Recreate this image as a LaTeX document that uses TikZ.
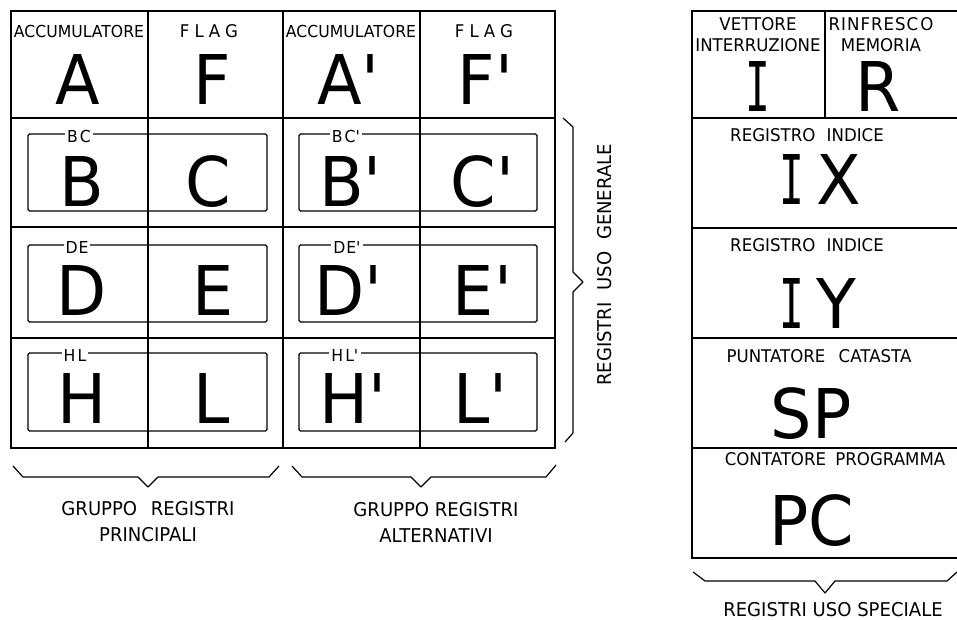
\documentclass[tikz,border=0pt]{standalone}
\usepackage{fontspec}
\usepackage{graphicx}
\setmainfont{DejaVu Sans}[FakeStretch=0.95]
\newfontfamily\monoI{DejaVu Sans Mono}
\newcommand{\pr}{\textquotesingle}
\newcommand{\regI}{{\monoI\scalebox{0.6}[1]{I}}}

\begin{document}
\begin{tikzpicture}[x=1pt, y=-1pt,
    grid/.style={line width=2pt, line cap=rect},
    pair/.style={line width=1.1pt, rounded corners=1.5pt},
    brace/.style={line width=1.2pt, line join=round},
    tag/.style={font=\fontsize{17.5}{21}\selectfont,
        inner sep=0pt, align=center},
    pairtag/.style={font=\fontsize{16.5}{18}\selectfont,
        fill=white, inner sep=2pt},
    big/.style={font=\fontsize{68.6}{70}\selectfont,
        anchor=base, inner sep=0pt},
    group/.style={font=\fontsize{19}{26}\selectfont,
        inner sep=0pt, align=center}
]
\useasboundingbox (0,0) rectangle (957,620);

\draw[grid] (11,11) rectangle (555,448);
\draw[grid] (148,11) -- (148,448);
\draw[grid] (283,11) -- (283,448);
\draw[grid] (420,11) -- (420,448);
\draw[grid] (11,118) -- (555,118);
\draw[grid] (11,227) -- (555,227);
\draw[grid] (11,338) -- (555,338);

\draw[pair] (28,134) rectangle (267,211);
\draw[pair] (299,134) rectangle (537,211);
\draw[pair] (28,245) rectangle (267,322);
\draw[pair] (299,245) rectangle (537,322);
\draw[pair] (28,353) rectangle (267,431);
\draw[pair] (299,353) rectangle (537,431);

\node[tag, font=\fontsize{16.5}{21}\selectfont] (acc) at (79,31) {ACCUMULATORE};
\node[tag] (flag) at (209,31) {F\hspace{5pt}L\hspace{5pt}A\hspace{5pt}G};
\node[tag, font=\fontsize{16.5}{21}\selectfont] (acc2) at (351,31) {ACCUMULATORE};
\node[tag] (flag2) at (484,31) {F\hspace{5pt}L\hspace{5pt}A\hspace{5pt}G};

\node[big] (A) at (78,105) {A};
\node[big] (F) at (212,105) {F};
\node[big] (A2) at (349,105) {A\pr};
\node[big] (F2) at (486,105) {F\pr};

\node[pairtag] (bc) at (79,136) {B\hspace{2pt}C};
\node[pairtag] (bc2) at (346,136) {B\hspace{2pt}C\pr};
\node[pairtag] (de) at (77,247) {D\hspace{1pt}E};
\node[pairtag] (de2) at (347,247) {D\hspace{1pt}E\pr};
\node[pairtag] (hl) at (75,355) {H\hspace{2pt}L};
\node[pairtag] (hl2) at (345,355) {H\hspace{2pt}L\pr};

\node[big] (B) at (82,207) {B};
\node[big] (C) at (208,207) {C};
\node[big] (B2) at (351,207) {B\pr};
\node[big] (C2) at (483,207) {C\pr};
\node[big] (D) at (82,315) {D};
\node[big] (E) at (213,315) {E};
\node[big] (D2) at (349,315) {D\pr};
\node[big] (E2) at (483,315) {E\pr};
\node[big] (H) at (82,423) {H};
\node[big] (L) at (212,423) {L};
\node[big] (H2) at (353,423) {H\pr};
\node[big] (L2) at (481,423) {L\pr};

\draw[grid] (692,11) rectangle (962,558);
\draw[grid] (825,11) -- (825,118);
\draw[grid] (692,118) -- (962,118);
\draw[grid] (692,228) -- (962,228);
\draw[grid] (692,338) -- (962,338);
\draw[grid] (692,448) -- (962,448);

\node[tag] (vec) at (758,35) {VETTORE\\INTERRUZIONE};
\node[tag] (refr) at (881,35) {R\hspace{1pt}I\hspace{1pt}N\hspace{1pt}F\hspace{1pt}R\hspace{1pt}E\hspace{1pt}S\hspace{1pt}C\hspace{2pt}O\\MEMORIA};
\node[big] (I) at (758,112) {\regI};
\node[big] (R) at (878,112) {R};
\node[tag] (ixtag) at (807,135) {REGISTRO\hspace{6pt} INDICE};
\node[big] (IX) at (820,205) {\regI\hspace{12pt}X};
\node[tag] (iytag) at (807,245) {REGISTRO\hspace{6pt} INDICE};
\node[big] (IY) at (818,328) {\regI\hspace{12pt}Y};
\node[tag] (sptag) at (819,356) {PUNTATORE\hspace{8pt} CATASTA};
\node[big] (SP) at (811,438) {SP};
\node[tag] (pctag) at (835,459) {CONTATORE\hspace{4pt} PROGRAMMA};
\node[big] (PC) at (812,545) {PC};

\coordinate (p1) at (13,466);
\coordinate (p2) at (279,466);
\draw[brace] (p1) -- ++(10,11) -- ++(115,0) -- ++(10,10)
    -- ++(10,-10) -- ++(111,0) -- (p2);
\coordinate (q1) at (292,466);
\coordinate (q2) at (556,465);
\draw[brace] (q1) -- ++(10,11) -- ++(109,0) -- ++(10,10)
    -- ++(10,-10) -- ++(115,0) -- (q2);
\coordinate (g1) at (563,118);
\coordinate (g2) at (565,442);
\draw[brace] (g1) -- ++(10,9) -- ++(0,145) -- ++(10,10)
    -- ++(-10,10) -- ++(0,141) -- (g2);
\coordinate (s1) at (693,572);
\coordinate (s2) at (957,572);
\draw[brace] (s1) -- ++(12,9) -- ++(110,0) -- ++(10,12)
    -- ++(10,-12) -- ++(112,0) -- (s2);

\node[group] (princ) at (148,522) {GRUPPO\hspace{8pt} REGISTRI\\PRINCIPALI};
\node[group] (alt) at (436,522) {GRUPPO REGISTRI\\ALTERNATIVI};
\node[group, rotate=90] (gen) at (605,265)
    {REGISTRI\hspace{6pt} USO\hspace{6pt} GENERALE};
\node[group] (spec) at (833,610) {REGISTRI USO SPECIALE};
\end{tikzpicture}
\end{document}
